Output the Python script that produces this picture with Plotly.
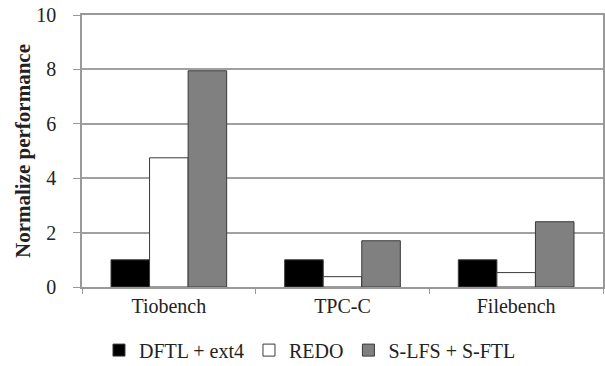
import plotly.graph_objects as go

categories = ["Tiobench", "TPC-C", "Filebench"]
series_names = ["DFTL + ext4", "REDO", "S-LFS + S-FTL"]
dftl_ext4 = [1.0, 1.0, 1.0]
redo = [4.75, 0.38, 0.53]
slfs_sftl = [7.95, 1.70, 2.40]
y_ticks = [0, 2, 4, 6, 8, 10]

colors = ["#000000", "#ffffff", "#808080"]
values = [dftl_ext4, redo, slfs_sftl]

FONT = "Liberation Serif"

fig = go.Figure()
for name, vals, col in zip(series_names, values, colors):
    fig.add_trace(go.Bar(
        x=categories, y=vals, name=name,
        marker=dict(color=col, line=dict(color="#3a3a3a", width=1)),
    ))

fig.update_layout(
    template="none",
    width=605, height=366,
    margin=dict(l=82, r=2, t=15, b=79, autoexpand=False),
    paper_bgcolor="white", plot_bgcolor="white",
    barmode="group", bargap=0.334, bargroupgap=0,
    font=dict(family=FONT, size=20, color="#222222"),
    showlegend=True,
    legend=dict(
        orientation="h", x=0.4376, xanchor="center",
        y=-0.232, yanchor="middle",
        font=dict(family=FONT, size=20, color="#222222"),
        itemwidth=30, tracegroupgap=0,
    ),
)
fig.update_xaxes(
    showline=True, mirror=True, linecolor="#999999", linewidth=1.5,
    ticks="outside", tickson="boundaries", ticklen=5, tickcolor="#999999",
    tickangle=0, showgrid=False,
    tickfont=dict(family=FONT, size=20, color="#222222"),
)
fig.update_yaxes(
    range=[0, 10], tickvals=y_ticks,
    showline=True, mirror=True, linecolor="#999999", linewidth=1.5,
    showgrid=True, gridcolor="#a0a0a0", gridwidth=1.5,
    ticks="outside", ticklen=7, tickcolor="#999999",
    ticklabelstandoff=13, ticklabeloverflow="allow",
    tickfont=dict(family=FONT, size=20, color="#222222"),
    title=dict(text="<b>Normalize performance</b>", font=dict(family=FONT, size=21, color="#222222"), standoff=0),
    zeroline=False,
)

# remove the browser's default 8px page margin so the figure fills the window exactly
fig.write_html("out.html", config={"displayModeBar": False},
               post_script="document.body.style.margin='0';")
